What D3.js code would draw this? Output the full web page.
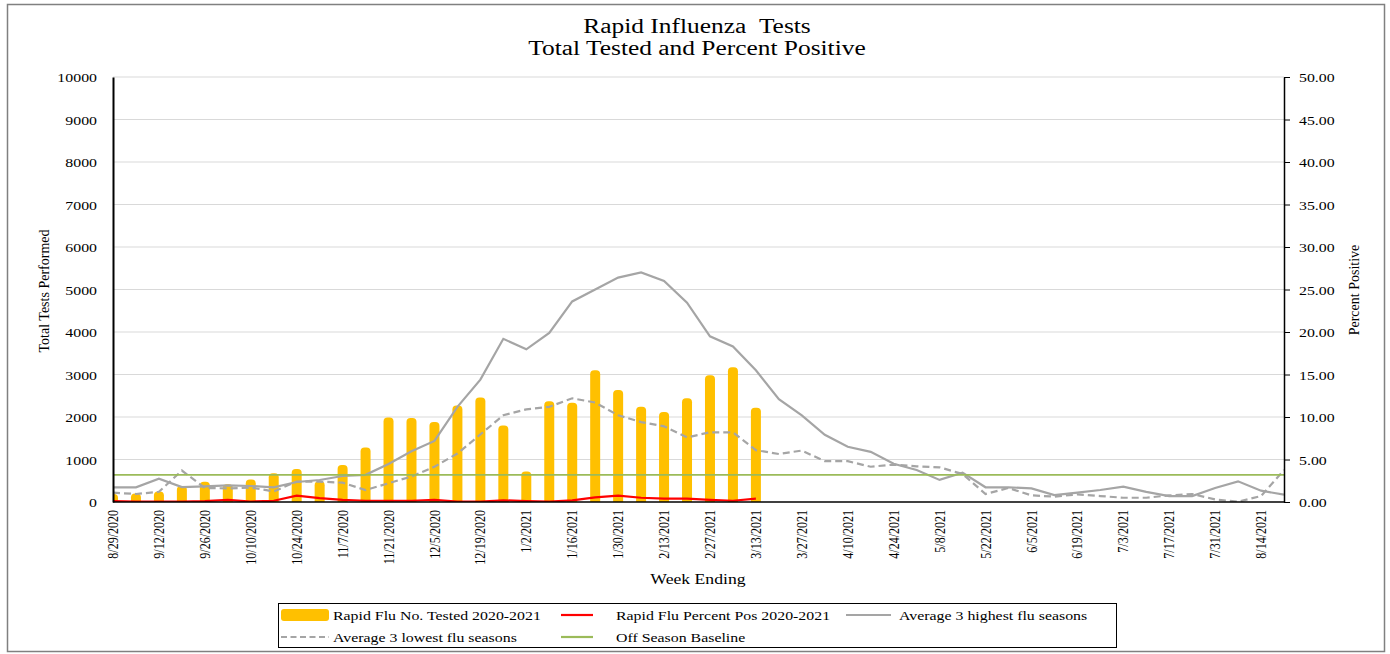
<!DOCTYPE html>
<html>
<head>
<meta charset="utf-8">
<script src="https://cdnjs.cloudflare.com/ajax/libs/d3/7.8.5/d3.min.js"></script>
<style>
    body { margin: 0; background: #fff; }
    text { font-family: 'Liberation Serif', 'Times New Roman', serif; fill: #000; }
</style>
</head>
<body>
<div id="chart"></div>
<script>
'use strict';

// week ending dates
var weeks = [
    '8/29/2020', '9/5/2020', '9/12/2020', '9/19/2020', '9/26/2020', '10/3/2020', '10/10/2020',
    '10/17/2020', '10/24/2020', '10/31/2020', '11/7/2020', '11/14/2020', '11/21/2020', '11/28/2020',
    '12/5/2020', '12/12/2020', '12/19/2020', '12/26/2020', '1/2/2021', '1/9/2021', '1/16/2021',
    '1/23/2021', '1/30/2021', '2/6/2021', '2/13/2021', '2/20/2021', '2/27/2021', '3/6/2021',
    '3/13/2021', '3/20/2021', '3/27/2021', '4/3/2021', '4/10/2021', '4/17/2021', '4/24/2021',
    '5/1/2021', '5/8/2021', '5/15/2021', '5/22/2021', '5/29/2021', '6/5/2021', '6/12/2021',
    '6/19/2021', '6/26/2021', '7/3/2021', '7/10/2021', '7/17/2021', '7/24/2021', '7/31/2021',
    '8/7/2021', '8/14/2021', '8/21/2021'
];

// Rapid Flu No. Tested 2020-2021 (left axis)
var tested = [
    190, 200, 245, 375, 475, 415, 530, 675, 775, 490, 870, 1285, 1990, 1975,
    1880, 2270, 2460, 1800, 720, 2370, 2335, 3100, 2635, 2240, 2120, 2440, 2980, 3170,
    2220
];

// Rapid Flu Percent Pos 2020-2021 (right axis)
var pctPos = [
    0.1, 0.05, 0.05, 0.05, 0.1, 0.25, 0.05, 0.15, 0.75, 0.45, 0.25, 0.15, 0.15, 0.15,
    0.25, 0.05, 0.05, 0.2, 0.1, 0.05, 0.2, 0.55, 0.75, 0.5, 0.4, 0.4, 0.25, 0.15,
    0.4
];

// Average 3 highest flu seasons
var avgHigh = [
    1.73, 1.73, 2.75, 1.76, 1.84, 1.96, 1.88, 1.73, 2.35, 2.59, 3.06, 3.2, 4.47, 5.96,
    7.18, 11.2, 14.4, 19.2, 17.96, 19.9, 23.6, 25.0, 26.4, 27.0, 26.0, 23.45, 19.5, 18.3,
    15.5, 12.1, 10.2, 7.9, 6.5, 5.9, 4.5, 3.76, 2.6, 3.45, 1.73, 1.73, 1.6, 0.82,
    1.1, 1.41, 1.8, 1.2, 0.7, 0.7, 1.65, 2.43, 1.33, 0.86
];

// Average 3 lowest flu seasons
var avgLow = [
    1.1, 0.94, 1.2, 3.7, 1.65, 1.6, 1.7, 1.25, 2.4, 2.4, 2.27, 1.4, 2.2, 3.0,
    4.15, 5.7, 7.95, 10.2, 10.9, 11.2, 12.2, 11.7, 10.2, 9.4, 8.9, 7.6, 8.2, 8.2,
    6.1, 5.65, 6.05, 4.8, 4.8, 4.15, 4.4, 4.2, 4.08, 3.3, 0.94, 1.65, 0.78, 0.63,
    0.9, 0.7, 0.5, 0.5, 0.78, 0.94, 0.3, 0.04, 0.7, 3.76
];

// Off Season Baseline
var baseline = 3.18;

var leftTicks = d3.range(0, 10001, 1000);
var rightTicks = d3.range(0, 50.01, 5);

var width = 1390;
var height = 654;
var sx = 1.22;   // horizontal stretch of the original text

var margin = {left: 113, right: 1284, top: 77, bottom: 502};

var svg = d3.select('#chart')
    .append('svg')
    .attr('width', width)
    .attr('height', height);

// outer frame
svg.append('rect')
    .attr('x', 7.5)
    .attr('y', 4.5)
    .attr('width', 1377)
    .attr('height', 647)
    .style('fill', 'none')
    .style('stroke', '#808080')
    .style('stroke-width', 1.5);

var x = d3.scalePoint()
    .domain(weeks)
    .range([margin.left, margin.right]);

var yLeft = d3.scaleLinear()
    .domain([0, 10000])
    .range([margin.bottom, margin.top]);

var yRight = d3.scaleLinear()
    .domain([0, 50])
    .range([margin.bottom, margin.top]);

// stretched horizontal text helper
var addText = function(parent, px, py, str, size, anchor, stretch) {
    return parent.append('text')
        .attr('transform', 'translate(' + px + ',' + py + ') scale(' + (stretch || sx) + ',1)')
        .attr('text-anchor', anchor || 'middle')
        .style('font-size', size + 'px')
        .text(str);
};

// title
addText(svg, 697, 33, 'Rapid Influenza\u00a0\u00a0Tests', 20, 'middle', 1.27);
addText(svg, 697, 55, 'Total Tested and Percent Positive', 20, 'middle', 1.27);

// gridlines
svg.append('g')
    .selectAll('line')
    .data(leftTicks.slice(1))
    .enter()
    .append('line')
    .attr('x1', margin.left)
    .attr('x2', margin.right)
    .attr('y1', function(d) { return yLeft(d); })
    .attr('y2', function(d) { return yLeft(d); })
    .style('stroke', '#d9d9d9')
    .style('stroke-width', 1);

svg.append('clipPath')
    .attr('id', 'plot-clip')
    .append('rect')
    .attr('x', margin.left)
    .attr('y', margin.top)
    .attr('width', margin.right - margin.left)
    .attr('height', margin.bottom - margin.top);

var plot = svg.append('g').attr('clip-path', 'url(#plot-clip)');

var barWidth = 10;
plot.selectAll('.bar')
    .data(tested)
    .enter()
    .append('rect')
    .attr('class', 'bar')
    .attr('x', function(d, i) { return x(weeks[i]) - barWidth / 2; })
    .attr('y', function(d) { return yLeft(d); })
    .attr('width', barWidth)
    .attr('height', function(d) { return yLeft(0) - yLeft(d) + 4; })
    .attr('rx', 4)
    .style('fill', '#ffc000');

var line = d3.line()
    .x(function(d, i) { return x(weeks[i]); })
    .y(function(d) { return yRight(d); });

plot.append('path')
    .datum(avgLow)
    .attr('d', line)
    .style('fill', 'none')
    .style('stroke', '#a5a5a5')
    .style('stroke-width', 2.2)
    .style('stroke-dasharray', '7,4');

plot.append('path')
    .datum(avgHigh)
    .attr('d', line)
    .style('fill', 'none')
    .style('stroke', '#a5a5a5')
    .style('stroke-width', 2.2);

plot.append('line')
    .attr('x1', margin.left)
    .attr('x2', margin.right)
    .attr('y1', yRight(baseline))
    .attr('y2', yRight(baseline))
    .style('stroke', '#9bbb59')
    .style('stroke-width', 1.8);

plot.append('path')
    .datum(pctPos)
    .attr('d', line)
    .style('fill', 'none')
    .style('stroke', '#ff0000')
    .style('stroke-width', 2.2);

// axes
var leftAxis = svg.append('g')
    .attr('transform', 'translate(' + margin.left + ',0)')
    .call(d3.axisLeft(yLeft).tickValues(leftTicks).tickSize(0).tickPadding(0).tickFormat(d3.format('d')));
leftAxis.select('.domain').style('stroke', '#000').style('stroke-width', 2);
leftAxis.selectAll('.tick text').remove();
leftAxis.selectAll('.tick').each(function(d) {
    addText(d3.select(this), -16, 4.5, d, 13, 'end');
});

var rightAxis = svg.append('g')
    .attr('transform', 'translate(' + margin.right + ',0)')
    .call(d3.axisRight(yRight).tickValues(rightTicks).tickSize(6).tickSizeOuter(0).tickFormat(d3.format('.2f')));
rightAxis.select('.domain').style('stroke', '#000').style('stroke-width', 1.5);
rightAxis.selectAll('.tick line').style('stroke', '#000');
rightAxis.selectAll('.tick text').remove();
rightAxis.selectAll('.tick').each(function(d) {
    addText(d3.select(this), 15, 4.5, d3.format('.2f')(d), 13, 'start');
});

// bottom axis line
svg.append('line')
    .attr('x1', margin.left)
    .attr('x2', margin.right)
    .attr('y1', margin.bottom)
    .attr('y2', margin.bottom)
    .style('stroke', '#000')
    .style('stroke-width', 1.5);

// week labels, every other week
svg.append('g')
    .selectAll('text')
    .data(weeks.filter(function(d, i) { return i % 2 === 0; }))
    .enter()
    .append('text')
    .attr('transform', function(d) {
        return 'translate(' + x(d) + ',510) scale(' + sx + ',1) rotate(-90)';
    })
    .attr('text-anchor', 'end')
    .attr('dy', '0.35em')
    .style('font-size', '12px')
    .text(function(d) { return d; });

// axis titles
svg.append('text')
    .attr('transform', 'translate(44,291) rotate(-90)')
    .attr('text-anchor', 'middle')
    .attr('dy', '0.35em')
    .style('font-size', '14px')
    .text('Total Tests Performed');

svg.append('text')
    .attr('transform', 'translate(1354,290) rotate(-90)')
    .attr('text-anchor', 'middle')
    .attr('dy', '0.35em')
    .style('font-size', '14px')
    .text('Percent Positive');

addText(svg, 698, 584, 'Week Ending', 14.5);

// legend
var legend = svg.append('g');
legend.append('rect')
    .attr('x', 278.5)
    .attr('y', 603.5)
    .attr('width', 838)
    .attr('height', 44)
    .style('fill', '#fff')
    .style('stroke', '#000')
    .style('stroke-width', 1);

var legendItems = [
    {name: 'Rapid Flu No. Tested 2020-2021', kind: 'bar', color: '#ffc000', x: 281, w: 48, y: 615},
    {name: 'Rapid Flu Percent Pos 2020-2021', kind: 'line', color: '#ff0000', x: 561, w: 32, y: 615},
    {name: 'Average 3 highest flu seasons', kind: 'line', color: '#a5a5a5', x: 846, w: 45, y: 615},
    {name: 'Average 3 lowest flu seasons', kind: 'dash', color: '#a5a5a5', x: 281, w: 48, y: 637},
    {name: 'Off Season Baseline', kind: 'line', color: '#9bbb59', x: 561, w: 32, y: 637}
];

legendItems.forEach(function(item) {
    if (item.kind === 'bar') {
        legend.append('rect')
            .attr('x', item.x)
            .attr('y', item.y - 6)
            .attr('width', item.w)
            .attr('height', 12)
            .attr('rx', 3)
            .style('fill', item.color);
    } else {
        legend.append('line')
            .attr('x1', item.x)
            .attr('x2', item.x + item.w)
            .attr('y1', item.y)
            .attr('y2', item.y)
            .style('stroke', item.color)
            .style('stroke-width', 2.2)
            .style('stroke-dasharray', item.kind === 'dash' ? '6,3.5' : null);
    }
    var tx = item.kind === 'line' ? item.x + item.w + 23 : item.x + item.w + 4;
    if (item.x === 846) { tx = item.x + item.w + 8; }
    addText(legend, tx, item.y + 4.5, item.name, 13, 'start');
});
</script>
</body>
</html>
